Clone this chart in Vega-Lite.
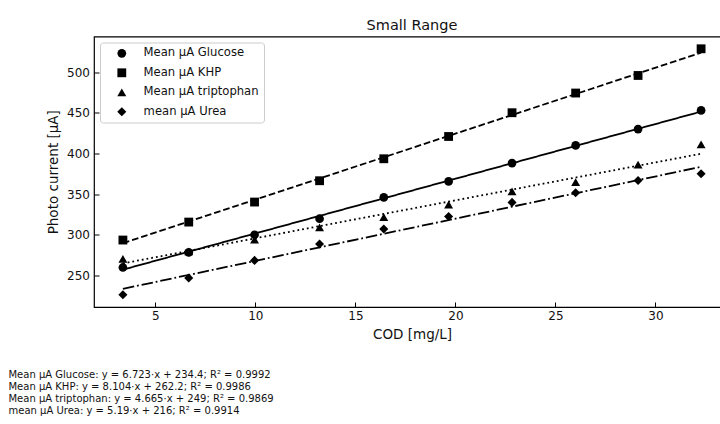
{
  "$schema": "https://vega.github.io/schema/vega-lite/v6.json",
  "padding": {"left": 8, "top": 16.5, "right": 0, "bottom": 0},
  "background": "white",
  "config": {
    "font": "DejaVu Sans",
    "view": {"stroke": "black", "strokeWidth": 1.2},
    "axis": {
      "grid": false, "domain": false,
      "tickColor": "black", "tickSize": -5, "tickWidth": 1,
      "labelColor": "#111", "labelFontSize": 12, "labelFont": "DejaVu Sans",
      "titleFont": "DejaVu Sans", "titleFontWeight": "normal", "titleFontSize": 13.5, "titleColor": "#111"
    },
    "legend": {
      "orient": "top-left", "offset": 6, "padding": 5,
      "strokeColor": "#cccccc", "fillColor": "white", "cornerRadius": 3,
      "labelFont": "DejaVu Sans", "labelFontSize": 11.6, "labelColor": "#111",
      "symbolOffset": 11, "labelOffset": 16, "rowPadding": 6.5,
      "symbolFillColor": "black", "symbolStrokeColor": "black", "symbolStrokeWidth": 0
    }
  },
  "title": {
    "text": [
      "Mean µA Glucose: y = 6.723·x + 234.4; R² = 0.9992",
      "Mean µA KHP: y = 8.104·x + 262.2; R² = 0.9986",
      "Mean µA triptophan: y = 4.665·x + 249; R² = 0.9869",
      "mean µA Urea: y = 5.19·x + 216; R² = 0.9914"
    ],
    "orient": "bottom", "anchor": "start", "frame": "bounds",
    "font": "DejaVu Sans", "fontSize": 10, "fontWeight": "normal", "lineHeight": 12,
    "offset": 29, "dx": -37.5, "color": "#111"
  },
  "datasets": {
    "points": [
      {"series": "Mean µA Glucose", "x": 3.38, "y": 259.8},
      {"series": "Mean µA Glucose", "x": 6.67, "y": 278.3},
      {"series": "Mean µA Glucose", "x": 9.96, "y": 300.0},
      {"series": "Mean µA Glucose", "x": 13.21, "y": 319.7},
      {"series": "Mean µA Glucose", "x": 16.42, "y": 345.9},
      {"series": "Mean µA Glucose", "x": 19.66, "y": 365.6},
      {"series": "Mean µA Glucose", "x": 22.83, "y": 388.1},
      {"series": "Mean µA Glucose", "x": 26.01, "y": 409.8},
      {"series": "Mean µA Glucose", "x": 29.13, "y": 429.9},
      {"series": "Mean µA Glucose", "x": 32.28, "y": 452.8},
      {"series": "Mean µA KHP", "x": 3.38, "y": 293.5},
      {"series": "Mean µA KHP", "x": 6.67, "y": 315.6},
      {"series": "Mean µA KHP", "x": 9.96, "y": 340.2},
      {"series": "Mean µA KHP", "x": 13.21, "y": 366.4},
      {"series": "Mean µA KHP", "x": 16.42, "y": 393.4},
      {"series": "Mean µA KHP", "x": 19.66, "y": 420.8},
      {"series": "Mean µA KHP", "x": 22.83, "y": 450.0},
      {"series": "Mean µA KHP", "x": 26.01, "y": 474.2},
      {"series": "Mean µA KHP", "x": 29.13, "y": 495.8},
      {"series": "Mean µA KHP", "x": 32.28, "y": 528.6},
      {"series": "Mean µA triptophan", "x": 3.38, "y": 270.5},
      {"series": "Mean µA triptophan", "x": 6.67, "y": 279.5},
      {"series": "Mean µA triptophan", "x": 9.96, "y": 293.9},
      {"series": "Mean µA triptophan", "x": 13.21, "y": 309.0},
      {"series": "Mean µA triptophan", "x": 16.42, "y": 321.8},
      {"series": "Mean µA triptophan", "x": 19.66, "y": 336.9},
      {"series": "Mean µA triptophan", "x": 22.83, "y": 353.3},
      {"series": "Mean µA triptophan", "x": 26.01, "y": 364.8},
      {"series": "Mean µA triptophan", "x": 29.13, "y": 386.1},
      {"series": "Mean µA triptophan", "x": 32.28, "y": 411.0},
      {"series": "mean µA Urea", "x": 3.38, "y": 226.3},
      {"series": "mean µA Urea", "x": 6.67, "y": 246.8},
      {"series": "mean µA Urea", "x": 9.96, "y": 268.5},
      {"series": "mean µA Urea", "x": 13.21, "y": 288.6},
      {"series": "mean µA Urea", "x": 16.42, "y": 307.0},
      {"series": "mean µA Urea", "x": 19.66, "y": 322.5},
      {"series": "mean µA Urea", "x": 22.83, "y": 339.8},
      {"series": "mean µA Urea", "x": 26.01, "y": 351.6},
      {"series": "mean µA Urea", "x": 29.13, "y": 366.8},
      {"series": "mean µA Urea", "x": 32.28, "y": 375.0}
    ],
    "fits": [
      {"fit": "Glucose", "x": 3.38, "y": 257.12},
      {"fit": "Glucose", "x": 32.28, "y": 451.42},
      {"fit": "KHP", "x": 3.38, "y": 289.59},
      {"fit": "KHP", "x": 32.28, "y": 523.80},
      {"fit": "triptophan", "x": 3.38, "y": 264.77},
      {"fit": "triptophan", "x": 32.28, "y": 399.59},
      {"fit": "Urea", "x": 3.38, "y": 233.54},
      {"fit": "Urea", "x": 32.28, "y": 383.53}
    ]
  },
  "vconcat": [
    {
      "width": 636,
      "height": 270.5,
      "title": {"text": "Small Range", "font": "DejaVu Sans", "fontSize": 14.5, "fontWeight": "normal", "offset": 3, "anchor": "middle", "frame": "group", "color": "#111"},
      "layer": [
        {
          "data": {"name": "fits"},
          "mark": {"type": "line", "color": "black", "strokeWidth": 1.8},
          "encoding": {
            "x": {"field": "x", "type": "quantitative",
                  "scale": {"domain": [1.935, 33.725], "nice": false, "zero": false},
                  "axis": {"values": [5, 10, 15, 20, 25, 30], "title": "COD [mg/L]", "labelPadding": 8, "titlePadding": 6}},
            "y": {"field": "y", "type": "quantitative",
                  "scale": {"domain": [211.2, 543.7], "nice": false, "zero": false},
                  "axis": {"values": [250, 300, 350, 400, 450, 500], "title": "Photo current [µA]", "labelPadding": 9.5, "titlePadding": 6}},
            "strokeDash": {"field": "fit", "type": "nominal",
                  "scale": {"domain": ["Glucose", "KHP", "triptophan", "Urea"],
                            "range": [[1, 0], [6.7, 2.9], [1.8, 3], [11.5, 2.9, 1.8, 2.9]]},
                  "legend": null}
          }
        },
        {
          "data": {"name": "points"},
          "mark": {"type": "point", "filled": true, "color": "black", "opacity": 1},
          "encoding": {
            "x": {"field": "x", "type": "quantitative"},
            "y": {"field": "y", "type": "quantitative"},
            "shape": {"field": "series", "type": "nominal",
                      "scale": {"domain": ["Mean µA Glucose", "Mean µA KHP", "Mean µA triptophan", "mean µA Urea"],
                                "range": ["circle", "square", "triangle-up", "diamond"]},
                      "legend": {"title": null}},
            "size": {"field": "series", "type": "nominal",
                      "scale": {"domain": ["Mean µA Glucose", "Mean µA KHP", "Mean µA triptophan", "mean µA Urea"],
                                "range": [76, 82, 110, 130]},
                      "legend": {"title": null}}
          }
        }
      ]
    }
  ]
}
